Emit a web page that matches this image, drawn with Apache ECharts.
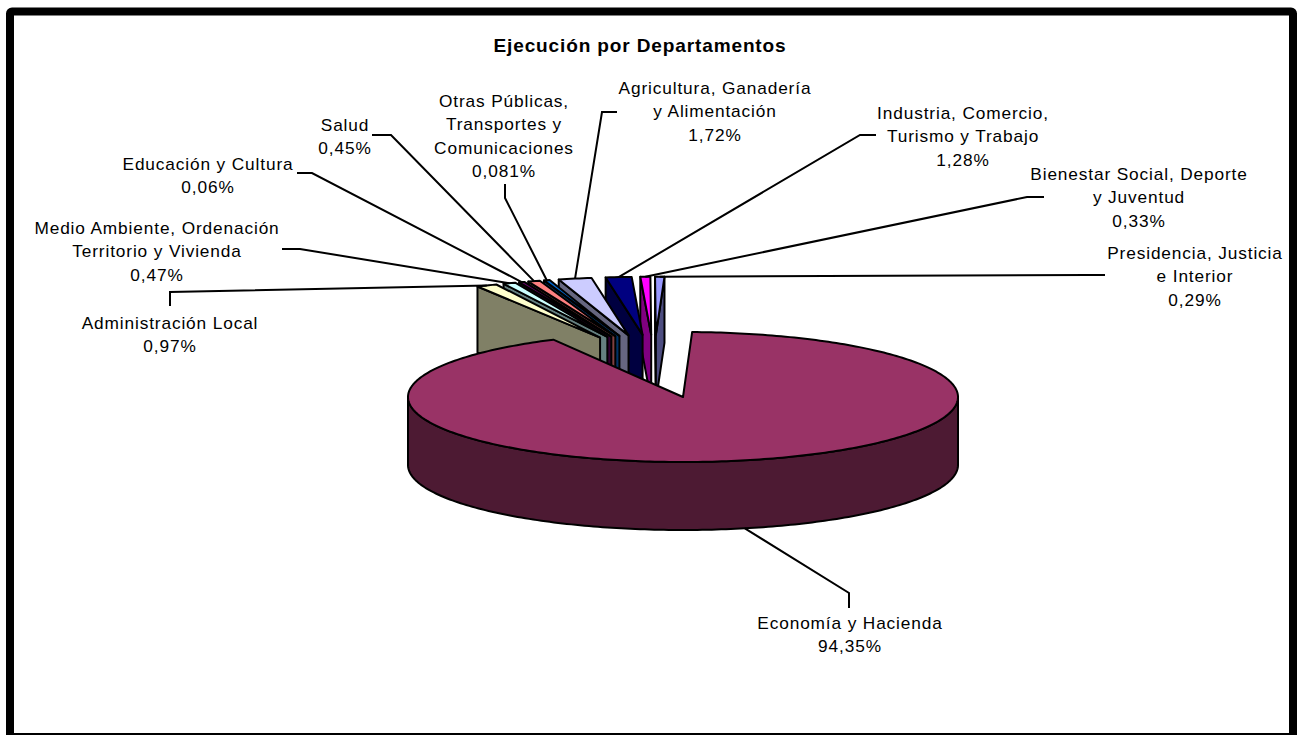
<!DOCTYPE html>
<html>
<head>
<meta charset="utf-8">
<style>
html,body{margin:0;padding:0;background:#fff}
#chart{width:1301px;height:735px}
#chart text{letter-spacing:0.8px}
</style>
<script src="https://cdn.jsdelivr.net/npm/echarts@6/dist/echarts.min.js"></script>
</head>
<body>
<div id="chart"></div>
<script>
// clockwise order, same as the sheet
var categories = ['Economía y Hacienda', 'Administración Local', 'Medio Ambiente, Ordenación\nTerritorio y Vivienda', 'Educación y Cultura', 'Salud', 'Otras Públicas,\nTransportes y\nComunicaciones', 'Agricultura, Ganadería\ny Alimentación', 'Industria, Comercio,\nTurismo y Trabajo', 'Bienestar Social, Deporte\ny Juventud', 'Presidencia, Justicia\ne Interior'];
var values = [94.35, 0.97, 0.47, 0.06, 0.45, 0.081, 1.72, 1.28, 0.33, 0.29];
var valueLabels = ['94,35%', '0,97%', '0,47%', '0,06%', '0,45%', '0,081%', '1,72%', '1,28%', '0,33%', '0,29%'];
var colors = ['#993366', '#FFFFCC', '#CCFFFF', '#660066', '#FF8080', '#0066CC', '#CCCCFF', '#000080', '#FF00FF', '#9999FF'];

// layout only: label centre + top, then the elbow of the leader line
var labelPos = [[850, 612], [170, 312], [157, 217], [208, 153], [345, 114], [504, 90], [715, 77], [963, 102], [1139, 163], [1195, 242]];
var elbows = [[[849, 608], [849, 593]], [[170, 306], [170, 292]], [[282, 249], [300, 249]], [[297, 173], [312, 173]], [[372, 135], [391, 135]], [[505, 184], [505, 198]], [[617, 112], [602, 112]], [[876, 135], [860, 135]], [[1044, 197], [1027, 197]], [[1105, 275], [1088, 275]]];

var cx = 683, cy = 397, rx = 275, ry = 65, depth = 68;
var smallRx = 260, smallRy = 58, smallDepth = 66, explode = 0.45, shiftX = -29, shiftY = -33;
var mainStart = 1.9, angleScale = 1.034, anglePad = 1;
var textStretch = 1.08, titleStretch = 1.06;

function rad(d) { return d * Math.PI / 180; }
function onArc(x, y, a, b, t) { return [x + a * Math.sin(rad(t)), y - b * Math.cos(rad(t))]; }
function arc(x, y, a, b, t0, t1) {
  var pts = [], n = Math.max(2, Math.ceil(Math.abs(t1 - t0)));
  for (var i = 0; i <= n; i++) pts.push(onArc(x, y, a, b, t0 + (t1 - t0) * i / n));
  return pts;
}

// small slices get a stretched share of the turn, the big one takes what is left
var spans = values.map(function (v) { return v * 3.6 * angleScale + anglePad; });
spans[0] = 360 - spans.slice(1).reduce(function (s, v) { return s + v; }, 0);
var starts = [];
spans.reduce(function (s, v, i) { starts[i] = s; return s + v; }, mainStart);

function smallApex(i) {
  var m = starts[i] + spans[i] / 2;
  var p = onArc(0, 0, rx * explode, ry * explode, m);
  return [cx + shiftX + p[0], cy + shiftY + p[1]];
}
function poly(points, fill) {
  return { type: 'polygon', shape: { points: points }, style: { fill: fill, stroke: '#000', lineWidth: 2, lineJoin: 'round' } };
}
function shade(c) { return echarts.color.lerp(0.5, [c, '#000000']); }

function renderMain() {
  var t0 = starts[0], t1 = t0 + spans[0];
  var front = arc(cx, cy, rx, ry, 90, 270);
  var back = arc(cx, cy + depth, rx, ry, 270, 90);
  return { type: 'group', children: [
    poly(front.concat(back), shade(colors[0])),
    poly([[cx, cy]].concat(arc(cx, cy, rx, ry, t0, t1)), colors[0])
  ] };
}
function renderSmall(i) {
  var t0 = starts[i], t1 = t0 + spans[i], a = smallApex(i), kids = [];
  var ol = onArc(a[0], a[1], smallRx, smallRy, t0), or = onArc(a[0], a[1], smallRx, smallRy, t1);
  kids.push(poly([ol, a, [a[0], a[1] + smallDepth], [ol[0], ol[1] + smallDepth]], shade(colors[i])));
  if (t1 % 360 < 90) kids.push(poly([or, a, [a[0], a[1] + smallDepth], [or[0], or[1] + smallDepth]], shade(colors[i])));
  kids.push(poly([a].concat(arc(a[0], a[1], smallRx, smallRy, t0, t1)), colors[i]));
  return { type: 'group', children: kids };
}
function leaderEnd(i) {
  if (i === 0) return onArc(cx, cy + depth, rx, ry, 167);
  var a = smallApex(i);
  return onArc(a[0], a[1], smallRx, smallRy, starts[i] + spans[i] / 2);
}

// painted right to left, the big slice last
var drawOrder = [];
for (var k = values.length - 1; k >= 0; k--) drawOrder.push([k]);

var labelData = categories.map(function (c, i) { return [i]; });

var chart = echarts.init(document.getElementById('chart'), null, { renderer: 'svg' });
chart.setOption({
  animation: false,
  backgroundColor: '#fff',
  graphic: [{
    type: 'rect', silent: true, z: -1,
    shape: { x: 10, y: 11.5, width: 1283, height: 725.5, r: 2 },
    style: { fill: '#fff', stroke: '#000', lineWidth: 8 }
  }, {
    type: 'text', silent: true, z: 5,
    x: 640, y: 37, scaleX: titleStretch,
    style: {
      text: 'Ejecución por Departamentos', x: 0, y: 0, align: 'center', verticalAlign: 'top',
      fontFamily: 'Liberation Sans', fontSize: 18, fontWeight: 'bold', fill: '#000'
    }
  }],
  series: [{
    type: 'custom',
    coordinateSystem: 'none',
    silent: true,
    z: 2,
    data: drawOrder,
    renderItem: function (params, api) {
      var i = api.value(0);
      return i === 0 ? renderMain() : renderSmall(i);
    }
  }, {
    type: 'custom',
    coordinateSystem: 'none',
    silent: true,
    z: 3,
    data: labelData,
    renderItem: function (params, api) {
      var i = api.value(0);
      var line = elbows[i].concat([leaderEnd(i)]);
      return { type: 'group', children: [{
        type: 'polyline',
        shape: { points: line },
        style: { stroke: '#000', lineWidth: 2, fill: 'none' }
      }, {
        type: 'text',
        x: labelPos[i][0], y: labelPos[i][1], scaleX: textStretch,
        style: {
          text: categories[i] + '\n' + valueLabels[i],
          x: 0, y: 0,
          align: 'center', verticalAlign: 'top',
          fontFamily: 'Liberation Sans', fontSize: 16, lineHeight: 23.3, fill: '#000'
        }
      }] };
    }
  }]
});
</script>
</body>
</html>
